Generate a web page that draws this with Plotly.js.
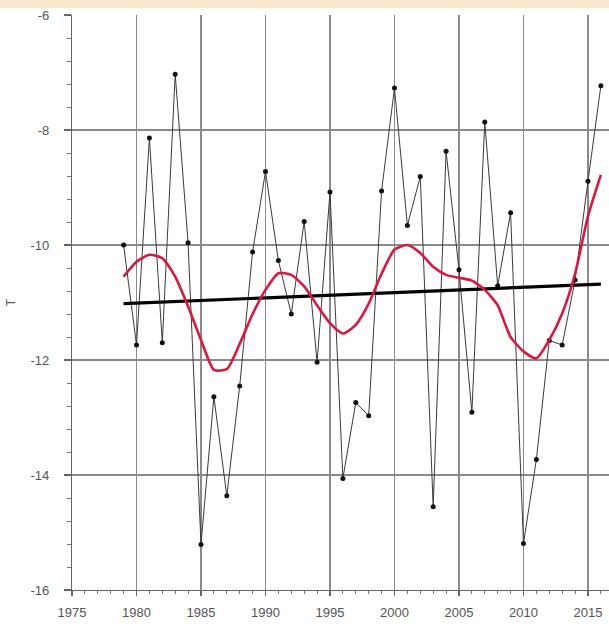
<!DOCTYPE html>
<html>
<head>
<meta charset="utf-8">
<script src="https://cdn.plot.ly/plotly-3.0.1.min.js"></script>
<style>
  html, body { margin: 0; padding: 0; background: #ffffff; }
  #chart { width: 609px; height: 624px; }
</style>
</head>
<body>
<div id="chart"></div>
<script>
// Years of observation
const years = [1979,1980,1981,1982,1983,1984,1985,1986,1987,1988,1989,1990,1991,1992,1993,1994,1995,1996,1997,1998,
               1999,2000,2001,2002,2003,2004,2005,2006,2007,2008,2009,2010,2011,2012,2013,2014,2015,2016];
// Observed T values
const tValues = [-10.0,-11.74,-8.14,-11.70,-7.03,-9.96,-15.21,-12.64,-14.36,-12.45,-10.12,-8.72,-10.27,-11.2,-9.59,-12.04,-9.08,-14.06,-12.74,-12.97,
                 -9.06,-7.27,-9.66,-8.81,-14.55,-8.37,-10.43,-12.91,-7.86,-10.71,-9.44,-15.19,-13.73,-11.66,-11.74,-10.61,-8.89,-7.23];
// Smoothed curve (red)
const smoothValues = [-10.55,-10.29,-10.17,-10.23,-10.55,-11.07,-11.65,-12.17,-12.16,-11.72,-11.2,-10.78,-10.49,-10.52,-10.72,-11.05,-11.36,-11.54,-11.39,-11.02,
                      -10.5,-10.08,-10.0,-10.14,-10.38,-10.52,-10.57,-10.62,-10.78,-11.05,-11.6,-11.85,-11.97,-11.65,-11.19,-10.5,-9.5,-8.78];
// Linear trend (black)
const trendYears = [1979, 2016];
const trendValues = [-11.02, -10.68];
// Axis tick labels
const xTicks = [1975,1980,1985,1990,1995,2000,2005,2010,2015];
const xTickLabels = ['1975','1980','1985','1990','1995','2000','2005','2010','2015'];
const yTicks = [-6,-8,-10,-12,-14,-16];
const yTickLabels = ['-6','-8','-10','-12','-14','-16'];

const traces = [
  {
    x: years, y: tValues, type: 'scatter', mode: 'lines+markers',
    line: {color: '#3a3a3a', width: 1},
    marker: {symbol: 'circle', size: 5, color: '#111111'},
    showlegend: false
  },
  {
    x: trendYears, y: trendValues, type: 'scatter', mode: 'lines',
    line: {color: '#000000', width: 3.2}, showlegend: false
  },
  {
    x: years, y: smoothValues, type: 'scatter', mode: 'lines',
    line: {color: '#e0143c', width: 2.6, shape: 'spline', smoothing: 0.6}, showlegend: false
  }
];

const tickFont = {family: '"Liberation Sans", Arial, sans-serif', size: 13, color: '#555555'};

const layout = {
  width: 609, height: 624,
  margin: {l: 72, r: 0, t: 15, b: 34, pad: 0},
  paper_bgcolor: '#ffffff', plot_bgcolor: '#ffffff',
  showlegend: false,
  xaxis: {
    range: [1975, 2016.63],
    tickmode: 'array', tickvals: xTicks, ticktext: xTickLabels,
    showgrid: true, gridcolor: '#8a8a8a', gridwidth: 1.6,
    zeroline: false,
    showline: true, linecolor: '#666666', linewidth: 1.2,
    ticks: 'outside', ticklen: 5, tickcolor: '#666666', tickwidth: 1.2,
    ticklabelstandoff: 5,
    minor: {tickmode: 'linear', dtick: 1, tick0: 1975, ticks: 'outside', ticklen: 3, tickcolor: '#777777', tickwidth: 1, showgrid: false},
    tickfont: tickFont
  },
  yaxis: {
    range: [-16, -6],
    tickmode: 'array', tickvals: yTicks, ticktext: yTickLabels,
    showgrid: true, gridcolor: '#8a8a8a', gridwidth: 1.6,
    zeroline: false,
    showline: true, linecolor: '#666666', linewidth: 1.2,
    ticks: 'outside', ticklen: 7, tickcolor: '#666666', tickwidth: 1.2,
    ticklabelstandoff: 12,
    minor: {tickmode: 'linear', dtick: 0.4, tick0: -16, ticks: 'outside', ticklen: 4, tickcolor: '#777777', tickwidth: 1, showgrid: false},
    tickfont: tickFont,
    title: {text: 'T', font: {family: '"Liberation Sans", Arial, sans-serif', size: 12, color: '#555555'}, standoff: 12}
  },
  shapes: [
    {type: 'rect', xref: 'paper', yref: 'paper', x0: -0.2, x1: 1.05, y0: 1 + 7/575, y1: 1 + 15/575,
     fillcolor: '#fce8cf', line: {width: 0}, layer: 'below'}
  ]
};

Plotly.newPlot('chart', traces, layout, {displayModeBar: false, staticPlot: true});
</script>
</body>
</html>
